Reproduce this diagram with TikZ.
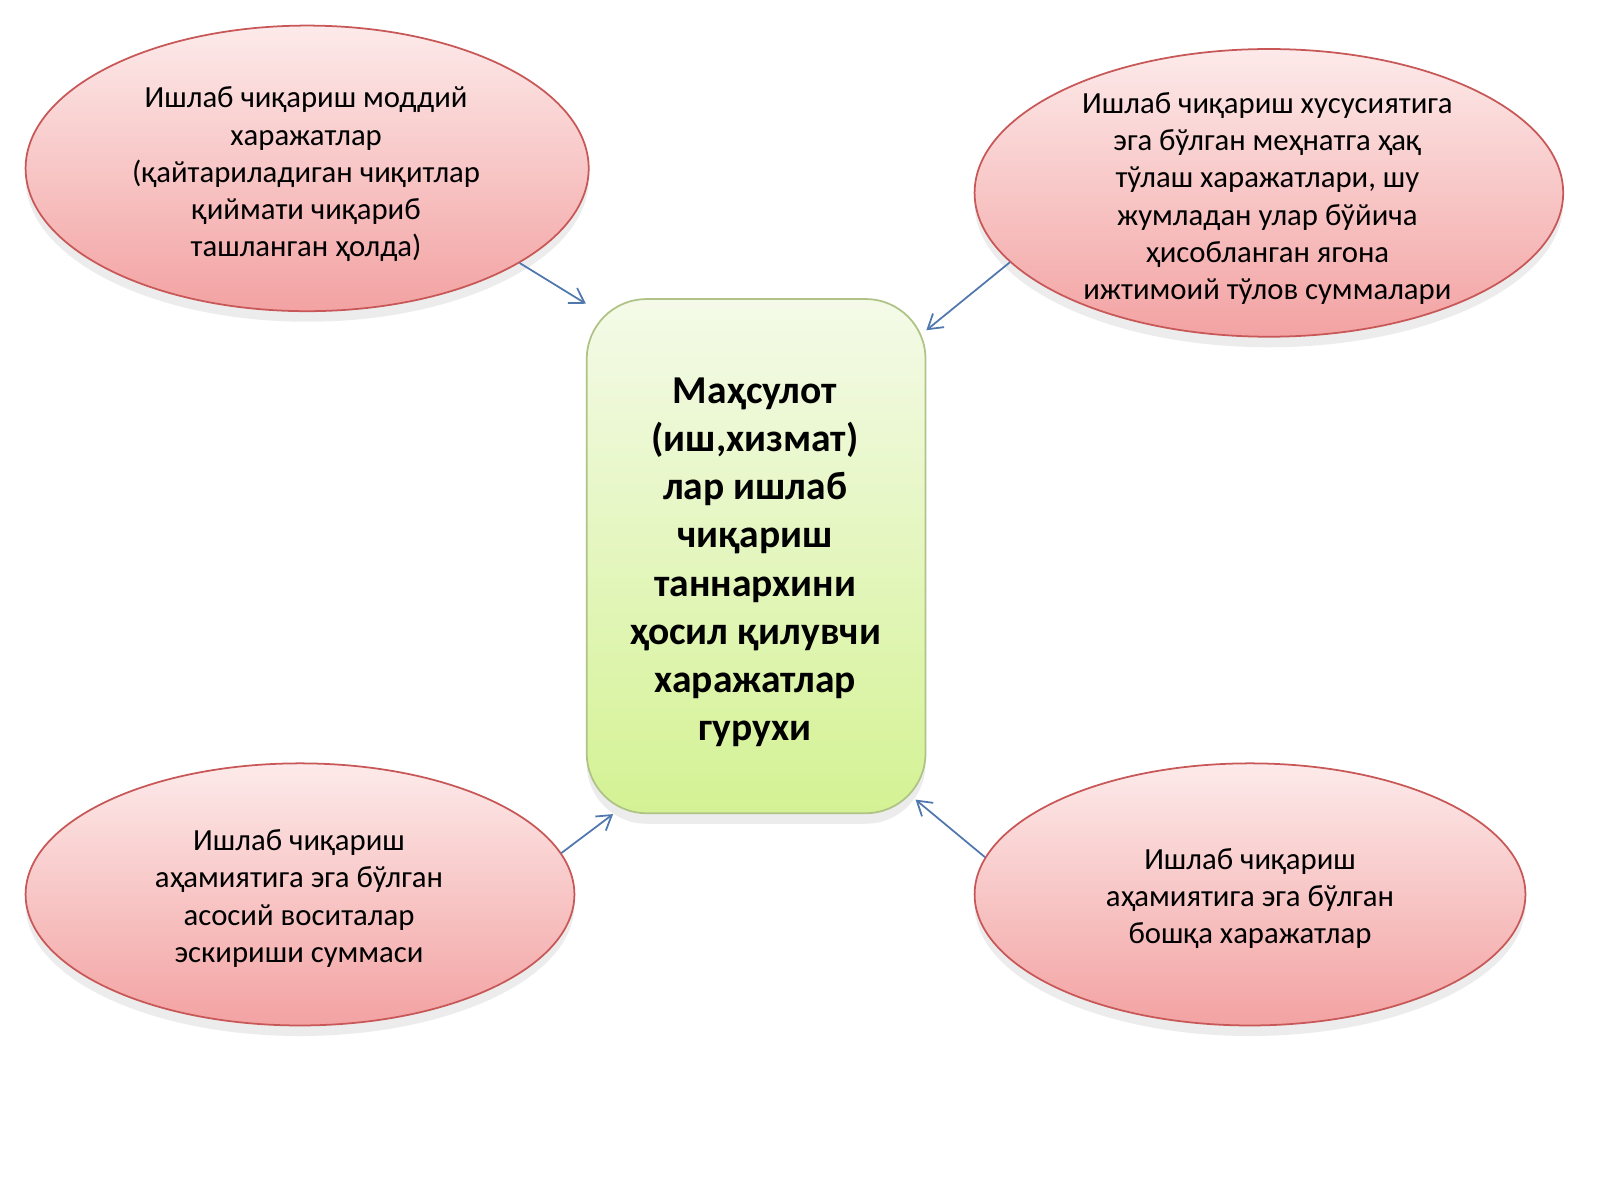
\documentclass[tikz,border=0pt]{standalone}
\usepackage{fontspec}
\setmainfont{Carlito}
\usetikzlibrary{shapes.geometric,arrows.meta,shadows}
\definecolor{pinkTop}{RGB}{253,234,234}
\definecolor{pinkBot}{RGB}{243,162,162}
\definecolor{pinkLine}{RGB}{200,88,88}
\definecolor{greenTop}{RGB}{244,250,232}
\definecolor{greenBot}{RGB}{212,242,148}
\definecolor{greenLine}{RGB}{175,195,135}
\definecolor{arrowBlue}{RGB}{80,120,175}
\tikzset{
  oval/.style={ellipse, draw=pinkLine, line width=0.5pt, top color=pinkTop, bottom color=pinkBot,
    inner sep=0pt, drop shadow={opacity=0.15, shadow xshift=0pt, shadow yshift=-3pt}},
  ovaltext/.style={align=center, inner sep=0pt, font=\fontsize{8.75pt}{10.6pt}\selectfont},
  centerbox/.style={rectangle, rounded corners=17pt, draw=greenLine, line width=0.5pt,
    top color=greenTop, bottom color=greenBot, inner sep=0pt,
    drop shadow={opacity=0.15, shadow xshift=0pt, shadow yshift=-3pt}},
  centertext/.style={align=center, inner sep=0pt, font=\bfseries\fontsize{11.25pt}{13.68pt}\selectfont},
  conn/.style={draw=arrowBlue, line width=0.5pt, -{Straight Barb[length=4pt,width=5pt]}}
}
\begin{document}
\begin{tikzpicture}[x=0.010204cm,y=-0.010204cm]
\useasboundingbox (0,0) rectangle (1568,1176);
\fill[white] (0,0) rectangle (1568,1176);

\node[oval, minimum width=5.633cm, minimum height=2.857cm] (tl) at (301,165) {};
\node[ovaltext] (tltext) at (300,171) {Ишлаб чиқариш моддий\\харажатлар\\(қайтариладиган чиқитлар\\қиймати чиқариб\\ташланган ҳолда)};

\node[oval, minimum width=5.888cm, minimum height=2.878cm] (tr) at (1243.5,189) {};
\node[ovaltext] (trtext) at (1242,194.5) {Ишлаб чиқариш хусусиятига\\эга бўлган меҳнатга ҳақ\\тўлаш харажатлари, шу\\жумладан улар бўйича\\ҳисобланган ягона\\ижтимоий тўлов суммалари};

\node[oval, minimum width=5.490cm, minimum height=2.622cm] (bl) at (294,876.5) {};
\node[ovaltext] (bltext) at (293,880.5) {Ишлаб чиқариш\\аҳамиятига эга бўлган\\асосий воситалар\\эскириши суммаси};

\node[oval, minimum width=5.510cm, minimum height=2.622cm] (br) at (1225,876.5) {};
\node[ovaltext] (brtext) at (1225,880.5) {Ишлаб чиқариш\\аҳамиятига эга бўлган\\бошқа харажатлар};

\node[centerbox, minimum width=3.388cm, minimum height=5.143cm] (c) at (741,545) {};
\node[centertext] (ctext) at (740,551) {Маҳсулот\\(иш,хизмат)\\лар ишлаб\\чиқариш\\таннархини\\ҳосил қилувчи\\харажатлар\\гурухи};

\draw[conn] (tl.-24.5) -- (c.124);
\draw[conn] (tr.-165.3) -- (c.53.8);
\draw[conn] (bl.9.5) -- (c.-119.2);
\draw[conn, shorten >=-4pt] (br.172.1) -- (c.-56.4);
\end{tikzpicture}
\end{document}
